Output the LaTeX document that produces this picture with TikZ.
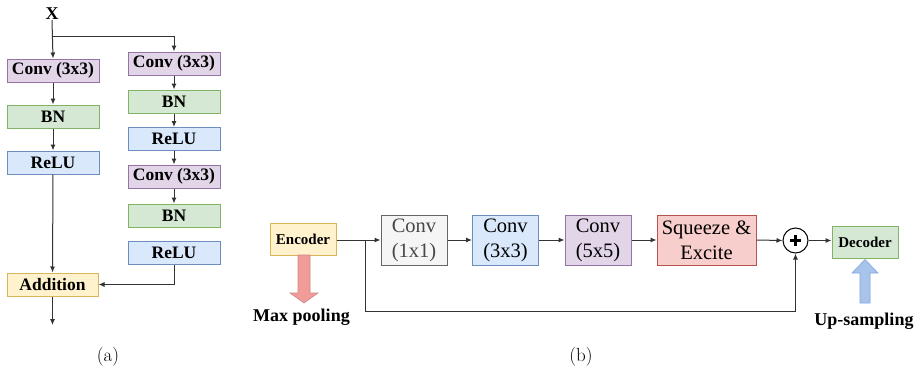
\documentclass[tikz,border=0pt]{standalone}
\usepackage{fontspec}
\newfontfamily\tnr{Liberation Serif}
\usetikzlibrary{arrows.meta,calc}
\definecolor{purF}{HTML}{E1D5E7}\definecolor{purD}{HTML}{9673A6}
\definecolor{grnF}{HTML}{D5E8D4}\definecolor{grnD}{HTML}{82B366}
\definecolor{bluF}{HTML}{DAE8FC}\definecolor{bluD}{HTML}{6C8EBF}
\definecolor{yelF}{HTML}{FFF2CC}\definecolor{yelD}{HTML}{D6B656}
\definecolor{redF}{HTML}{F8CECC}\definecolor{redD}{HTML}{B85450}
\definecolor{gryF}{HTML}{F5F5F5}\definecolor{gryD}{HTML}{666666}
\definecolor{lineC}{HTML}{333333}
\definecolor{poolF}{HTML}{F19C99}
\definecolor{upF}{HTML}{A9C4EB}\definecolor{upD}{HTML}{7EA6E0}
\tikzset{
  box/.style={draw, line width=1pt, inner sep=0pt, minimum width=92pt, minimum height=23pt,
    font=\tnr\bfseries\fontsize{17.5}{20}\selectfont, text=black},
  convA/.style={box, fill=purF, draw=purD},
  bnA/.style={box, fill=grnF, draw=grnD},
  reluA/.style={box, fill=bluF, draw=bluD},
  addA/.style={box, fill=yelF, draw=yelD, minimum width=91pt},
  blkB/.style={draw, line width=1pt, inner sep=0pt, minimum width=66pt, minimum height=50pt,
    align=center, font=\tnr\fontsize{20.5}{25}\selectfont, text=black},
  smallB/.style={draw, line width=1pt, inner sep=0pt, minimum width=66pt, minimum height=32pt,
    font=\tnr\bfseries\fontsize{15}{18}\selectfont, text=black},
  lbl/.style={font=\tnr\bfseries\fontsize{18}{20}\selectfont, inner sep=0pt},
  subcap/.style={font=\fontsize{19}{22}\selectfont, inner sep=0pt},
  arr/.style={draw=lineC, line width=1pt, -{Latex[length=6pt,width=5pt]}},
  ln/.style={draw=lineC, line width=1pt},
}
\begin{document}
\begin{tikzpicture}[x=1pt, y=-1pt]
\useasboundingbox (0,0) rectangle (922,372);

% ---------- (a) residual block ----------
\node[lbl] (X) at (52,14) {X};
\node[convA] (L1) at (53,70.5) {Conv (3x3)};
\node[bnA]   (L2) at (53,116.5) {BN};
\node[reluA] (L3) at (53,162.5) {ReLU};
\node[addA]  (Ad) at (52.5,284.5) {Addition};

\node[convA] (R1) at (174,63.5) {Conv (3x3)};
\node[bnA]   (R2) at (174,101.5) {BN};
\node[reluA] (R3) at (174,139) {ReLU};
\node[convA] (R4) at (174,176.5) {Conv (3x3)};
\node[bnA]   (R5) at (174,215.5) {BN};
\node[reluA] (R6) at (174,253) {ReLU};

\coordinate (br) at (52,36);
\coordinate (out) at (52.5,325);

\draw[arr] (X.south) -- (L1.north);
\draw[arr] (br) -| (R1.north);
\draw[arr] (L1) -- (L2);
\draw[arr] (L2) -- (L3);
\draw[arr] (L3) -- (Ad);
\draw[arr] (R1) -- (R2);
\draw[arr] (R2) -- (R3);
\draw[arr] (R3) -- (R4);
\draw[arr] (R4) -- (R5);
\draw[arr] (R6.south) |- (Ad.east);
\draw[arr] (Ad.south) -- (out);

\node[subcap] (ca) at (108,357) {(a)};

% ---------- (b) encoder block ----------
\node[smallB, fill=yelF, draw=yelD] (Enc) at (303,239) {Encoder};
\node[blkB, fill=gryF, draw=gryD, text=black!72] (C1) at (414,240) {Conv\\(1x1)};
\node[blkB, fill=bluF, draw=bluD] (C3) at (505.5,240) {Conv\\(3x3)};
\node[blkB, fill=purF, draw=purD] (C5) at (598,240) {Conv\\(5x5)};
\node[blkB, fill=redF, draw=redD, minimum width=99pt] (SE) at (706.5,240) {Squeeze \&\\Excite};
\node[circle, draw=black, line width=1pt, minimum size=25pt, inner sep=0pt, fill=white] (P) at (795.5,240.5) {};
\draw[line width=2.6pt] ($(P.center)+(-5.5,0)$) -- ($(P.center)+(5.5,0)$);
\draw[line width=2.6pt] ($(P.center)+(0,-5.5)$) -- ($(P.center)+(0,5.5)$);
\node[smallB, fill=grnF, draw=grnD] (Dec) at (865,242.5) {Decoder};

\coordinate (sk) at (365,240);
\coordinate (skb) at (365,311);

\draw[arr] (Enc.east |- sk) -- (C1.west);
\draw[arr] (C1) -- (C3);
\draw[arr] (C3) -- (C5);
\draw[arr] (C5) -- (SE);
\draw[arr] (SE.east) -- (P.west);
\draw[arr] (P.east) -- (Dec.west |- P.east);
\draw[arr] (sk) -- (skb) -| (P.south);

% max pooling block arrow
\filldraw[fill=poolF, draw=redD!70, line width=0.6pt]
  (298,255) -- (310,255) -- (310,293) -- (318,293) -- (304,303) -- (290,293) -- (298,293) -- cycle;
\node[lbl] (mp) at (301.5,317) {Max pooling};

% up-sampling block arrow
\filldraw[fill=upF, draw=upD, line width=0.6pt]
  (860,303) -- (870,303) -- (870,273) -- (878,273) -- (865,259.5) -- (852,273) -- (860,273) -- cycle;
\node[lbl] (us) at (864,321) {Up-sampling};

\node[subcap] (cb) at (581,357) {(b)};
\end{tikzpicture}
\end{document}
